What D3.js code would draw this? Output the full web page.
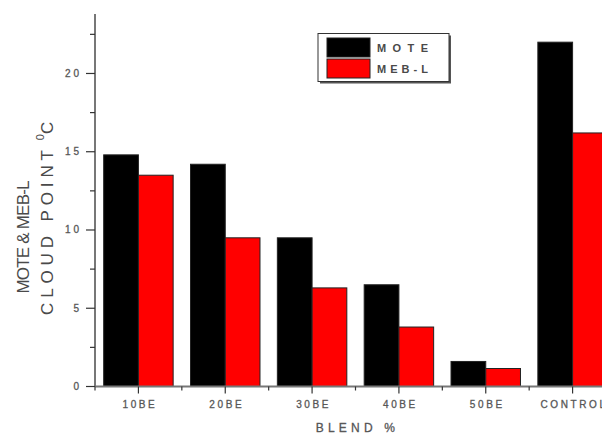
<!DOCTYPE html>
<html>
<head>
<meta charset="utf-8">
<script src="https://cdn.jsdelivr.net/npm/d3@7/dist/d3.min.js"></script>
<style>
  html, body { margin: 0; padding: 0; background: #fff; }
  svg { display: block; }
  text { font-family: "Liberation Sans", Arial, sans-serif; fill: #4a4a4a; }
</style>
</head>
<body>
<svg id="chart" width="602" height="434"></svg>
<script>
// Blend categories and cloud point values (°C)
const categories = ["10BE", "20BE", "30BE", "40BE", "50BE", "CONTROL"];
const seriesNames = ["MOTE", "MEB-L"];
const moteValues = [14.8, 14.2, 9.5, 6.5, 1.6, 22.0];
const mebValues  = [13.5, 9.5, 6.3, 3.8, 1.15, 16.2];
const yTickValues = [0, 5, 10, 15, 20];
const seriesColors = ["#000000", "#ff0000"];

const svg = d3.select("#chart");

const plot = { left: 95, right: 616, top: 14, bottom: 386.5 };

const x = d3.scaleBand()
  .domain(categories)
  .range([plot.left, plot.right])
  .paddingInner(0.2)
  .paddingOuter(0.1);

const xInner = d3.scaleBand()
  .domain(seriesNames)
  .range([0, x.bandwidth()]);

const y = d3.scaleLinear()
  .domain([0, 23.8])
  .range([plot.bottom, plot.top]);

const color = d3.scaleOrdinal().domain(seriesNames).range(seriesColors);

const rows = categories.map((c, i) => ({
  category: c,
  values: [
    { series: "MOTE", value: moteValues[i] },
    { series: "MEB-L", value: mebValues[i] }
  ]
}));

// Bars
const groups = svg.append("g")
  .selectAll("g")
  .data(rows)
  .join("g")
  .attr("transform", d => `translate(${x(d.category)},0)`);

groups.selectAll("rect")
  .data(d => d.values)
  .join("rect")
  .attr("x", d => xInner(d.series))
  .attr("y", d => y(d.value))
  .attr("width", xInner.bandwidth())
  .attr("height", d => y(0) - y(d.value))
  .attr("fill", d => color(d.series))
  .attr("stroke", "#222")
  .attr("stroke-width", 1);

// Y axis
const yAxis = svg.append("g").attr("transform", `translate(${plot.left},0)`);
yAxis.append("line")
  .attr("x1", 0).attr("x2", 0)
  .attr("y1", plot.top).attr("y2", plot.bottom)
  .attr("stroke", "#777").attr("stroke-width", 2);

const minorY = d3.range(2.5, 23.8, 5);
yAxis.selectAll(".ymajor")
  .data(yTickValues)
  .join("line")
  .attr("x1", -9).attr("x2", 0)
  .attr("y1", d => y(d)).attr("y2", d => y(d))
  .attr("stroke", "#333").attr("stroke-width", 1.2);
yAxis.selectAll(".yminor")
  .data(minorY)
  .join("line")
  .attr("x1", -5).attr("x2", 0)
  .attr("y1", d => y(d)).attr("y2", d => y(d))
  .attr("stroke", "#333").attr("stroke-width", 1.2);
yAxis.selectAll(".ylabel")
  .data(yTickValues)
  .join("text")
  .attr("x", -13)
  .attr("y", d => y(d) + 3.5)
  .attr("text-anchor", "end")
  .attr("font-size", 10)
  .attr("letter-spacing", 3)
  .attr("stroke", "#666").attr("stroke-width", 0.3)
  .text(d => d);

// X axis
const xAxis = svg.append("g").attr("transform", `translate(0,${plot.bottom})`);
xAxis.append("line")
  .attr("x1", plot.left).attr("x2", plot.right)
  .attr("y1", 0).attr("y2", 0)
  .attr("stroke", "#777").attr("stroke-width", 2);

xAxis.selectAll(".xmajor")
  .data(categories)
  .join("line")
  .attr("x1", d => x(d) + x.bandwidth() / 2)
  .attr("x2", d => x(d) + x.bandwidth() / 2)
  .attr("y1", 0).attr("y2", 7)
  .attr("stroke", "#333").attr("stroke-width", 1.2);

const boundaries = d3.range(0, categories.length + 1).map(i => plot.left + i * x.step());
xAxis.selectAll(".xminor")
  .data(boundaries)
  .join("line")
  .attr("x1", d => d).attr("x2", d => d)
  .attr("y1", 0).attr("y2", 4)
  .attr("stroke", "#333").attr("stroke-width", 1.2);

xAxis.selectAll(".xlabel")
  .data(categories)
  .join("text")
  .attr("x", d => x(d) + x.bandwidth() / 2 + 1.5)
  .attr("y", 21)
  .attr("text-anchor", "middle")
  .attr("font-size", 10)
  .attr("letter-spacing", 2.6)
  .attr("stroke", "#666").attr("stroke-width", 0.3)
  .text(d => d);

// Axis titles
svg.append("text")
  .attr("x", (plot.left + plot.right) / 2 + 2)
  .attr("y", 432)
  .attr("text-anchor", "middle")
  .attr("font-size", 12)
  .attr("letter-spacing", 4.2)
  .attr("stroke", "#666").attr("stroke-width", 0.3)
  .text("BLEND %");

svg.append("text")
  .attr("transform", "translate(29,237) rotate(-90)")
  .attr("text-anchor", "middle")
  .attr("font-size", 17)
  .attr("fill", "#555")
  .attr("textLength", 113)
  .attr("lengthAdjust", "spacing")
  .text("MOTE & MEB-L");

const t2 = svg.append("text")
  .attr("transform", "translate(53,315) rotate(-90)")
  .attr("text-anchor", "start")
  .attr("fill", "#555")
  .attr("font-size", 17);
t2.append("tspan")
  .attr("textLength", 165)
  .attr("lengthAdjust", "spacing")
  .text("CLOUD POINT");
t2.append("tspan").attr("font-size", 11).attr("dx", 5).attr("dy", -9).text("0");
t2.append("tspan").attr("dy", 9).text("C");

// Legend
const legend = svg.append("g");
legend.append("rect")
  .attr("x", 320).attr("y", 35.5)
  .attr("width", 131).attr("height", 48)
  .attr("fill", "#555");
legend.append("rect")
  .attr("x", 318).attr("y", 33.5)
  .attr("width", 131).attr("height", 48)
  .attr("fill", "#fff").attr("stroke", "#333").attr("stroke-width", 1);

const legendItems = legend.selectAll(".item")
  .data(seriesNames)
  .join("g")
  .attr("transform", (d, i) => `translate(327,${38 + i * 21})`);
legendItems.append("rect")
  .attr("width", 43).attr("height", 19)
  .attr("fill", d => color(d))
  .attr("stroke", "#222").attr("stroke-width", 1);
legendItems.append("text")
  .attr("x", 50).attr("y", 14)
  .attr("font-size", 11)
  .attr("font-weight", "bold")
  .attr("fill", "#555")
  .attr("textLength", 51)
  .attr("lengthAdjust", "spacing")
  .text(d => d);
</script>
</body>
</html>
